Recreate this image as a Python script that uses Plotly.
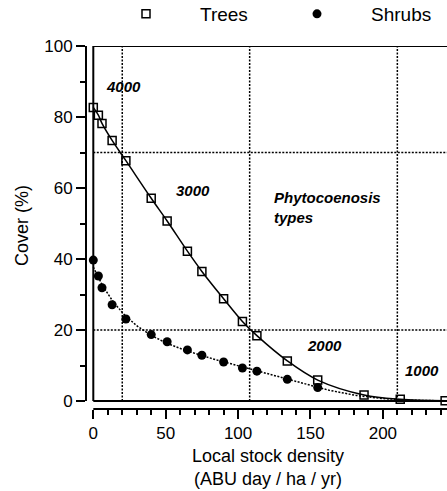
import numpy as np
import plotly.graph_objects as go

# Local stock density (ABU day / ha / yr) at each sampled plot
density = [0, 3.5, 6, 13, 22.5, 40, 51, 65, 75, 90, 103, 113, 134, 155, 187, 212, 243]
# Cover (%) of trees at each density
trees = [82.7, 80.5, 78.2, 73.4, 67.7, 57.1, 50.7, 42.2, 36.5, 28.8, 22.4, 18.4,
         11.3, 5.9, 1.7, 0.5, 0.1]
# Cover (%) of shrubs (sampled only up to 155)
shrub_density = density[:14]
shrubs = [39.7, 35.2, 31.9, 27.1, 23.1, 18.7, 16.7, 14.4, 12.9, 11.0, 9.3, 8.4, 6.1, 3.8]

# Boundaries between phytocoenosis types
type_bounds_x = [20, 108, 210]
type_bounds_y = [70, 20]
type_labels = ["4000", "3000", "2000", "1000"]
type_label_x = [21.2, 68.8, 160, 227.3]
type_label_y = [88.5, 59.2, 15.5, 8.5]

X_MAX = 244.3
W, H = 447, 491
ML, MR, MT, MB = 86, 0, 46, 82
PW, PH = W - ML - MR, H - MT - MB
# axes sit a few pixels away from the data frame
X_PAD = 7.3 * (X_MAX) / (PW - 7.3)
Y_PAD = 8.0 * 100 / (PH - 8.0)

FONT = "Liberation Sans, Arial, Helvetica, sans-serif"
DOTS = "2px,1.5px"

# Smooth trend for shrubs: cubic fit of log-cover, extended across the axis
sx = np.array(shrub_density, dtype=float)
sy = np.log(np.array(shrubs, dtype=float))
coef = np.polyfit(sx, sy, 3)
fit_x = np.linspace(0, X_MAX, 200)
fit_y = np.exp(np.polyval(coef, fit_x))

fig = go.Figure()

# Trees: solid trend + open squares
fig.add_trace(go.Scatter(
    x=density, y=trees, mode="lines", line=dict(color="black", width=1.5, shape="spline"),
    showlegend=False, hoverinfo="skip", cliponaxis=False))
fig.add_trace(go.Scatter(
    x=density, y=trees, mode="markers", name="Trees",
    marker=dict(symbol="square-open", size=8, color="black", line=dict(width=1.5)),
    cliponaxis=False))

# Shrubs: dotted trend + filled circles
fig.add_trace(go.Scatter(
    x=fit_x, y=fit_y, mode="lines", line=dict(color="black", width=1.5, dash=DOTS),
    showlegend=False, hoverinfo="skip"))
fig.add_trace(go.Scatter(
    x=shrub_density, y=shrubs, mode="markers", name="Shrubs",
    marker=dict(symbol="circle", size=9, color="black")))

shapes = []
for xb in type_bounds_x:
    shapes.append(dict(type="line", xref="x", yref="y", x0=xb, x1=xb, y0=0, y1=100,
                       line=dict(color="black", width=1.5, dash=DOTS), layer="below"))
for yb in type_bounds_y:
    shapes.append(dict(type="line", xref="x", yref="y", x0=0, x1=X_MAX, y0=yb, y1=yb,
                       line=dict(color="black", width=1.5, dash=DOTS), layer="below"))
# Data frame (left, top, bottom)
frame = dict(color="black", width=2)
shapes.append(dict(type="line", xref="x", yref="y", x0=0, x1=0, y0=0, y1=100, line=frame))
shapes.append(dict(type="line", xref="x", yref="y", x0=0, x1=X_MAX, y0=100, y1=100, line=frame))
shapes.append(dict(type="line", xref="x", yref="y", x0=0, x1=X_MAX, y0=0, y1=0, line=frame))
# Offset axis lines spanning only the data range
shapes.append(dict(type="line", xref="paper", yref="y", x0=0, x1=0, y0=0, y1=100, line=frame))
shapes.append(dict(type="line", xref="x", yref="paper", x0=0, x1=X_MAX, y0=0, y1=0, line=frame))

annotations = []
for t, ax, ay in zip(type_labels, type_label_x, type_label_y):
    annotations.append(dict(x=ax, y=ay, xref="x", yref="y", text=f"<b><i>{t}</i></b>",
                            showarrow=False, font=dict(family=FONT, size=15, color="black")))
annotations.append(dict(x=123.4, y=54.5, xref="x", yref="y", xanchor="left",
                        text="<b><i>Phytocoenosis<br>types</i></b>", align="left",
                        showarrow=False, font=dict(family=FONT, size=15, color="black")))
# Axis titles
annotations.append(dict(x=(268 - ML) / PW, y=(409 - 467) / PH, xref="paper", yref="paper",
                        xanchor="center", yanchor="middle",
                        text="Local stock density<br>(ABU day / ha / yr)", showarrow=False,
                        font=dict(family=FONT, size=18, color="black")))
annotations.append(dict(x=(22 - ML) / PW, y=(409 - 226) / PH, xref="paper", yref="paper",
                        xanchor="center", yanchor="middle",
                        text="Cover (%)", textangle=-90, showarrow=False,
                        font=dict(family=FONT, size=18, color="black")))

fig.update_layout(
    width=W, height=H,
    margin=dict(l=ML, r=MR, t=MT, b=MB, autoexpand=False),
    paper_bgcolor="white", plot_bgcolor="white",
    font=dict(family=FONT, size=17, color="black"),
    shapes=shapes, annotations=annotations,
    legend=dict(orientation="h", x=6 / PW, y=(409 - 14) / PH, xanchor="left", yanchor="middle",
                itemwidth=98, entrywidth=58, font=dict(family=FONT, size=19),
                bgcolor="rgba(0,0,0,0)"),
    xaxis=dict(range=[-X_PAD, X_MAX],
               showgrid=False, zeroline=False, showline=False,
               ticks="outside", ticklen=9, tickwidth=1.5, tickcolor="black",
               tickvals=[0, 50, 100, 150, 200],
               minor=dict(ticks="outside", ticklen=5, tickwidth=1.5, tickcolor="black",
                          tick0=0, dtick=10),
               tickfont=dict(family=FONT, size=17)),
    yaxis=dict(range=[-Y_PAD, 100],
               showgrid=False, zeroline=False, showline=False,
               ticks="outside", ticklen=9, tickwidth=1.5, tickcolor="black",
               tickvals=[0, 20, 40, 60, 80, 100],
               minor=dict(ticks="outside", ticklen=5, tickwidth=1.5, tickcolor="black",
                          tick0=0, dtick=10),
               tickfont=dict(family=FONT, size=17)),
)

fig.write_html("out.html")
